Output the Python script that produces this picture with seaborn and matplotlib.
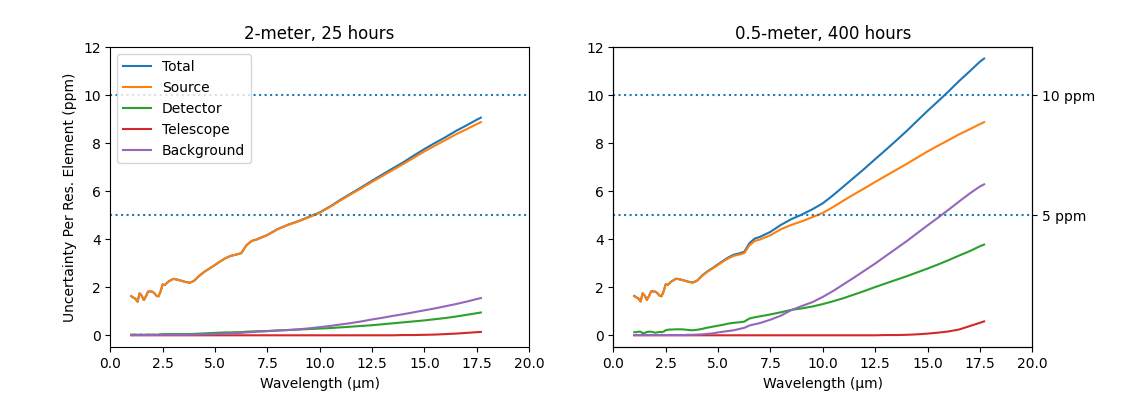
import numpy as np
import pandas as pd
import matplotlib
matplotlib.use("Agg")
from matplotlib import pyplot as plt
import seaborn as sns

# wavelength grid (micron)
wavelength = [1.0, 1.1, 1.2, 1.3, 1.4, 1.5, 1.6, 1.7, 1.8, 1.9, 2.0, 2.1, 2.2, 2.3, 2.4, 2.5, 2.6, 2.7, 2.8,
              3.0, 3.2, 3.4, 3.6, 3.8, 4.0,
              4.25, 4.5, 4.75, 5.0, 5.25, 5.5, 5.75, 6.0, 6.25, 6.5, 6.75, 7.0,
              7.5, 8.0, 8.5, 9.0, 9.5, 10.0, 10.5, 11.0, 11.5, 12.0, 12.5, 13.0, 13.5, 14.0, 14.5, 15.0,
              15.5, 16.0, 16.5, 17.0, 17.5, 17.7]

# source term is the same in both panels
source = [1.63, 1.57, 1.52, 1.40, 1.75, 1.65, 1.47, 1.62, 1.82, 1.83, 1.82, 1.76, 1.65, 1.62, 1.82, 2.12, 2.09, 2.18, 2.25,
          2.35, 2.32, 2.27, 2.22, 2.19, 2.27,
          2.48, 2.65, 2.79, 2.93, 3.08, 3.21, 3.31, 3.36, 3.42, 3.75, 3.93, 3.99,
          4.17, 4.42, 4.60, 4.75, 4.92, 5.10, 5.35, 5.62, 5.88, 6.13, 6.39, 6.64, 6.89, 7.14, 7.40, 7.66,
          7.90, 8.13, 8.37, 8.58, 8.80, 8.88]

# 2-meter, 25 hours
total_2m = [1.63, 1.57, 1.52, 1.40, 1.75, 1.65, 1.47, 1.62, 1.82, 1.83, 1.82, 1.76, 1.65, 1.62, 1.82, 2.12, 2.09, 2.18, 2.25,
            2.35, 2.32, 2.27, 2.22, 2.19, 2.27,
            2.48, 2.65, 2.79, 2.93, 3.08, 3.21, 3.31, 3.36, 3.42, 3.75, 3.93, 4.00,
            4.18, 4.43, 4.61, 4.76, 4.94, 5.12, 5.37, 5.65, 5.91, 6.17, 6.44, 6.70, 6.96, 7.21, 7.49, 7.76,
            8.01, 8.25, 8.51, 8.74, 8.98, 9.07]
detector_2m = [0.03, 0.03, 0.03, 0.02, 0.03, 0.03, 0.02, 0.03, 0.03, 0.03, 0.03, 0.03, 0.02, 0.03, 0.04, 0.05, 0.05, 0.05, 0.05,
               0.05, 0.05, 0.05, 0.05, 0.05, 0.06,
               0.07, 0.08, 0.09, 0.10, 0.11, 0.12, 0.12, 0.13, 0.13, 0.15, 0.16, 0.17,
               0.18, 0.20, 0.22, 0.24, 0.26, 0.28, 0.30, 0.33, 0.36, 0.39, 0.42, 0.46, 0.50, 0.54, 0.58, 0.62,
               0.67, 0.72, 0.78, 0.85, 0.92, 0.95]
telescope_2m = [0.0] * 50 + [0.01, 0.01, 0.02, 0.03, 0.05, 0.07, 0.10, 0.13, 0.14]
background_2m = [0.01, 0.01, 0.02, 0.01, 0.01, 0.02, 0.01, 0.01, 0.02, 0.01, 0.01, 0.02, 0.01, 0.02, 0.02, 0.02, 0.02, 0.02, 0.02,
                 0.02, 0.02, 0.02, 0.02, 0.02, 0.03,
                 0.03, 0.04, 0.04, 0.05, 0.06, 0.07, 0.08, 0.09, 0.10, 0.12, 0.13, 0.15,
                 0.17, 0.20, 0.22, 0.25, 0.29, 0.34, 0.39, 0.45, 0.51, 0.58, 0.66, 0.73, 0.81, 0.88, 0.96, 1.04,
                 1.12, 1.21, 1.30, 1.40, 1.51, 1.55]

# 0.5-meter, 400 hours
total_05m = [1.64, 1.58, 1.53, 1.41, 1.75, 1.65, 1.48, 1.63, 1.83, 1.83, 1.82, 1.76, 1.66, 1.63, 1.83, 2.13, 2.10, 2.19, 2.26,
             2.36, 2.33, 2.28, 2.23, 2.20, 2.28,
             2.50, 2.67, 2.81, 2.96, 3.11, 3.25, 3.36, 3.41, 3.48, 3.84, 4.03, 4.10,
             4.31, 4.60, 4.84, 5.03, 5.25, 5.50, 5.84, 6.21, 6.58, 6.95, 7.34, 7.72, 8.11, 8.51, 8.93, 9.35,
             9.75, 10.16, 10.59, 10.99, 11.40, 11.53]
detector_05m = [0.13, 0.13, 0.15, 0.15, 0.09, 0.10, 0.14, 0.15, 0.15, 0.13, 0.11, 0.12, 0.14, 0.13, 0.15, 0.21, 0.23, 0.24, 0.24,
                0.25, 0.25, 0.24, 0.22, 0.21, 0.23,
                0.27, 0.32, 0.36, 0.40, 0.44, 0.49, 0.52, 0.54, 0.57, 0.70, 0.75, 0.79,
                0.87, 0.96, 1.06, 1.12, 1.20, 1.30, 1.42, 1.55, 1.70, 1.85, 2.01, 2.16, 2.31, 2.46, 2.62, 2.78,
                2.95, 3.13, 3.32, 3.50, 3.71, 3.78]
telescope_05m = [0.0] * 48 + [0.01, 0.01, 0.02, 0.04, 0.07, 0.11, 0.16, 0.24, 0.38, 0.52, 0.58]
background_05m = [0.01] * 19 + [0.01, 0.01, 0.01, 0.02, 0.02, 0.03,
                                 0.04, 0.06, 0.08, 0.12, 0.15, 0.18, 0.21, 0.26, 0.31, 0.41, 0.46, 0.51,
                                 0.65, 0.82, 1.05, 1.22, 1.38, 1.60, 1.85, 2.13, 2.41, 2.70, 2.99, 3.30, 3.61, 3.92, 4.25, 4.58,
                                 4.90, 5.23, 5.57, 5.90, 6.20, 6.29]

labels = ["Total", "Source", "Detector", "Telescope", "Background"]
panels = [
    ("2-meter, 25 hours", [total_2m, source, detector_2m, telescope_2m, background_2m]),
    ("0.5-meter, 400 hours", [total_05m, source, detector_05m, telescope_05m, background_05m]),
]

fig = plt.figure(figsize=(11.36, 3.97), dpi=100)
ax1 = fig.add_axes([0.0971, 0.1252, 0.3686, 0.7557])
ax2 = fig.add_axes([0.5399, 0.1252, 0.3688, 0.7557])
colors = sns.color_palette("tab10")

for ax, (title, series) in zip([ax1, ax2], panels):
    for i, (lab, vals) in enumerate(zip(labels, series)):
        sns.lineplot(x=wavelength, y=vals, ax=ax, color=colors[i], label=lab, linewidth=1.5)
    ax.axhline(10, color=colors[0], linestyle=":", linewidth=1.5)
    ax.axhline(5, color=colors[0], linestyle=":", linewidth=1.5)
    ax.set_xlim(0, 20)
    ax.set_ylim(-0.5, 12)
    ax.set_xticks([0.0, 2.5, 5.0, 7.5, 10.0, 12.5, 15.0, 17.5, 20.0])
    ax.set_title(title, fontsize=12)
    ax.set_xlabel("Wavelength (µm)")

ax1.set_ylabel("Uncertainty Per Res. Element (ppm)")
ax1.legend(loc="upper left")
ax2.get_legend().remove()

ax3 = ax2.twinx()
ax3.set_ylim(-0.5, 12)
ax3.set_yticks([5, 10])
ax3.set_yticklabels(["5 ppm", "10 ppm"])

fig.savefig("out.png", dpi=100)
